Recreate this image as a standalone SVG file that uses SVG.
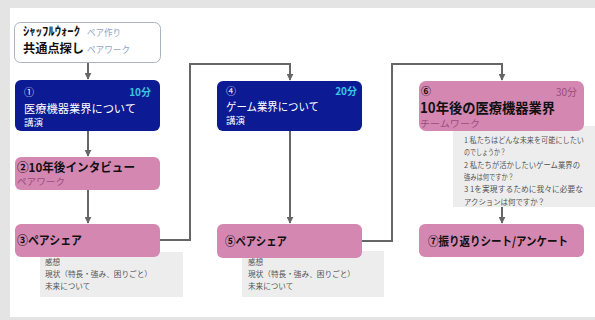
<svg xmlns="http://www.w3.org/2000/svg" width="595" height="320" viewBox="0 0 595 320">
<defs>
<style>
text{font-family:"Noto Sans CJK JP","Liberation Sans",sans-serif}
.navy{fill:#0c1a94}
.pink{fill:#d487b1}
.note{fill:#ededed}
.w{fill:#ffffff}
.b{font-weight:bold}
.nt{font-size:7.6px;fill:#555555}
.conn{fill:none;stroke:#666666;stroke-width:2}
</style>
<marker id="ah" viewBox="0 0 10 10" refX="9" refY="5" markerWidth="3.5" markerHeight="3.5" orient="auto"><path d="M0,0 L10,5 L0,10 z" fill="#666666"/></marker>
</defs>
<rect x="0" y="0" width="595" height="320" fill="#e4e4e4"/>
<rect x="10" y="8" width="585" height="309" fill="#ffffff"/>

<g id="connectors">
<path class="conn" d="M88,63 V79" marker-end="url(#ah)"/>
<path class="conn" d="M88,131 V156" marker-end="url(#ah)"/>
<path class="conn" d="M88,190 V223" marker-end="url(#ah)"/>
<path class="conn" d="M160,240 H190 V64 H290 V80" marker-end="url(#ah)"/>
<path class="conn" d="M290,131 V223" marker-end="url(#ah)"/>
<path class="conn" d="M362,241 H392 V64 H502 V80" marker-end="url(#ah)"/>
<path class="conn" d="M502,207 V223" marker-end="url(#ah)"/>
</g>

<g id="start">
<rect x="14.5" y="22.5" width="146" height="40" rx="6" fill="#ffffff" stroke="#a9b4c0" stroke-width="1"/>
<text x="23" y="36" font-size="12" class="b" fill="#111" textLength="57" lengthAdjust="spacingAndGlyphs">ｼｬｯﾌﾙｳｫｰｸ</text>
<text x="87" y="36" font-size="9" fill="#8fa5c4" textLength="34" lengthAdjust="spacingAndGlyphs">ペア作り</text>
<text x="23" y="53" font-size="12" class="b" fill="#111" textLength="61" lengthAdjust="spacingAndGlyphs">共通点探し</text>
<text x="87" y="53" font-size="9" fill="#8fa5c4" textLength="43" lengthAdjust="spacingAndGlyphs">ペアワーク</text>
</g>

<g id="n1">
<rect x="15" y="80" width="145" height="51" rx="6" class="navy"/>
<text x="24" y="96" font-size="10" class="w">①</text>
<text x="151" y="96" font-size="10" class="b" fill="#3cc4e2" text-anchor="end">10分</text>
<text x="24" y="113" font-size="11" class="w" textLength="112" lengthAdjust="spacingAndGlyphs">医療機器業界について</text>
<text x="24" y="126" font-size="9.5" class="w">講演</text>
</g>

<g id="n2">
<rect x="15" y="157" width="145" height="33" rx="6" class="pink"/>
<text x="17" y="172" font-size="12" class="b" fill="#111" textLength="118" lengthAdjust="spacingAndGlyphs">②10年後インタビュー</text>
<text x="17" y="185" font-size="9.5" fill="#9a4c80" textLength="48" lengthAdjust="spacingAndGlyphs">ペアワーク</text>
</g>

<g id="n3">
<rect x="40" y="252" width="143" height="45" class="note"/>
<rect x="15" y="224" width="145" height="33" rx="6" class="pink"/>
<text x="17" y="245" font-size="12" class="b" fill="#111" textLength="65" lengthAdjust="spacingAndGlyphs">③ペアシェア</text>
<text x="45" y="265" class="nt">感想</text>
<text x="45" y="277" class="nt" textLength="107" lengthAdjust="spacingAndGlyphs">現状（特長・強み、困りごと）</text>
<text x="45" y="289" class="nt">未来について</text>
</g>

<g id="n4">
<rect x="217" y="81" width="145" height="50" rx="6" class="navy"/>
<text x="226" y="95" font-size="10" class="w">④</text>
<text x="357" y="95" font-size="10" class="b" fill="#3cc4e2" text-anchor="end">20分</text>
<text x="226" y="111" font-size="11" class="w" textLength="93" lengthAdjust="spacingAndGlyphs">ゲーム業界について</text>
<text x="226" y="124" font-size="9.5" class="w">講演</text>
</g>

<g id="n5">
<rect x="242" y="251" width="142" height="46" class="note"/>
<rect x="217" y="224" width="145" height="34" rx="6" class="pink"/>
<text x="225" y="246" font-size="12" class="b" fill="#111" textLength="62" lengthAdjust="spacingAndGlyphs">⑤ペアシェア</text>
<text x="248" y="265" class="nt">感想</text>
<text x="248" y="277" class="nt" textLength="107" lengthAdjust="spacingAndGlyphs">現状（特長・強み、困りごと）</text>
<text x="248" y="289" class="nt">未来について</text>
</g>

<g id="n6">
<rect x="453" y="126" width="142" height="81" class="note"/>
<rect x="419" y="81" width="165" height="50" rx="7" class="pink"/>
<text x="421" y="95" font-size="10" class="b" fill="#111">⑥</text>
<text x="577" y="96" font-size="10" fill="#9a4c80" text-anchor="end">30分</text>
<text x="420" y="113" font-size="14" class="b" fill="#111" textLength="135" lengthAdjust="spacingAndGlyphs">10年後の医療機器業界</text>
<text x="420" y="127" font-size="9" fill="#9a4c80" textLength="60" lengthAdjust="spacingAndGlyphs">チームワーク</text>
<text x="464" y="143" class="nt" textLength="120" lengthAdjust="spacingAndGlyphs">1 私たちはどんな未来を可能にしたい</text>
<text x="464" y="155" class="nt" textLength="42" lengthAdjust="spacingAndGlyphs">のでしょうか？</text>
<text x="464" y="168" class="nt" textLength="116" lengthAdjust="spacingAndGlyphs">2 私たちが活かしたいゲーム業界の</text>
<text x="464" y="180" class="nt" textLength="50" lengthAdjust="spacingAndGlyphs">強みは何ですか？</text>
<text x="464" y="192" class="nt" textLength="119" lengthAdjust="spacingAndGlyphs">3 1を実現するために我々に必要な</text>
<text x="464" y="205" class="nt" textLength="81" lengthAdjust="spacingAndGlyphs">アクションは何ですか？</text>
</g>

<g id="n7">
<rect x="419" y="224" width="165" height="33" rx="6" class="pink"/>
<text x="428" y="246" font-size="12" class="b" fill="#111" textLength="140" lengthAdjust="spacingAndGlyphs">⑦振り返りシート/アンケート</text>
</g>
</svg>
